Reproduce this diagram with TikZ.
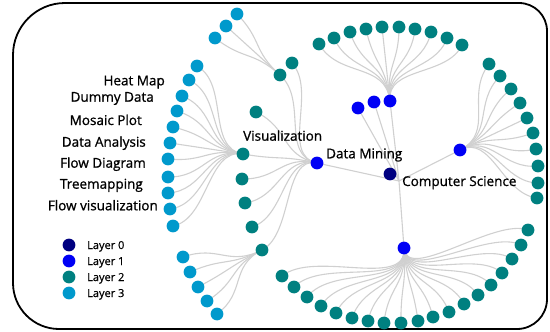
\documentclass[tikz,border=0pt]{standalone}
\usepackage{fontspec}
\setmainfont{Open Sans}
\newfontfamily\semib[FakeBold=1]{Open Sans}
\newfontfamily\medw[FakeBold=0.6]{Open Sans}
\usetikzlibrary{calc}
\definecolor{cz}{RGB}{0,0,128}
\definecolor{co}{RGB}{0,0,245}
\definecolor{ct}{RGB}{0,128,128}
\definecolor{cl}{RGB}{0,153,204}
\definecolor{lg}{RGB}{208,208,208}
\pgfdeclarelayer{bg}
\pgfsetlayers{bg,main}
\tikzset{
  nd/.style={circle, inner sep=0pt, minimum size=12.8pt, draw=none},
  Lz/.style={nd, fill=cz},
  Lo/.style={nd, fill=co},
  Lt/.style={nd, fill=ct},
  Lh/.style={nd, fill=cl},
  lnk/.style={draw=lg, line width=1.1pt},
  lab/.style={inner sep=0pt, font=\semib\fontsize{13.5}{16}\selectfont},
  sideLab/.style={inner sep=0pt, font=\semib\fontsize{13.5}{16}\selectfont, anchor=base east},
  legLab/.style={inner sep=0pt, font=\medw\fontsize{11}{13}\selectfont, anchor=base west},
  frame/.style={draw=black, line width=1.8pt}
}
\newcommand\lk[2]{%
  \draw[lnk] let \p1=($(#1)-(O)$), \p2=($(#2)-(O)$),
    \n1={veclen(\x1,\y1)}, \n2={veclen(\x2,\y2)}, \n3={(\n1+\n2)/2} in
    (#1.center) .. controls ($(O)!\n3!(#1)$) and ($(O)!\n3!(#2)$) .. (#2.center);}
\newcommand\rk[1]{\draw[lnk] (O) .. controls ($(O)!0.5!(#1)$) .. (#1.center);}
\begin{document}
\begin{tikzpicture}[x=1pt,y=-1pt]
\useasboundingbox (0,0) rectangle (550,332);
% frame
\draw[frame] (13,55) .. controls (13,26.3) and (36.3,3) .. (65,3) -- (519,3)
  .. controls (534.5,3) and (547,15.5) .. (547,31) -- (547,299)
  .. controls (547,315.6) and (533.6,329) .. (517,329) -- (59,329)
  .. controls (33.6,329) and (13,308.4) .. (13,283) -- cycle;
% root
\coordinate (O) at (399,181);
\node[Lz] (R) at (390,174) {};
% layer 1
\node[Lo] (B1) at (317,163) {};
\node[Lo] (B2) at (358,108) {};
\node[Lo] (B3) at (374,102) {};
\node[Lo] (B4) at (390,101) {};
\node[Lo] (B5) at (460,150) {};
\node[Lo] (B6) at (404,248) {};
% layer 2 under Data Mining
\foreach \x/\y [count=\i] in {292/63,280/75,256/112,243/154,242/179,245/203,252/227,262/250}
  {\node[Lt] (D\i) at (\x,\y) {};}
% layer 2 top
\foreach \x/\y [count=\i] in {319/44,334/38,350/32,366/29,382/27,399/27,415/29,431/32,447/38,462/45}
  {\node[Lt] (T\i) at (\x,\y) {};}
% layer 2 right
\foreach \x/\y [count=\i] in {489/64,500/76,511/89,520/103,527/118,533/133,536/149,538/166,538/183,537/198}
  {\node[Lt] (S\i) at (\x,\y) {};}
% layer 2 bottom
\foreach \x/\y [count=\i] in {282/276,294/287,307/297,321/306,336/313,352/318,368/321,384/323,401/323,418/321,433/317,449/312,464/304,478/295,491/285,502/273,512/259,521/245,528/230}
  {\node[Lt] (U\i) at (\x,\y) {};}
% layer 3
\foreach \x/\y [count=\i] in {237/14,226/26,215/38}
  {\node[Lh] (P\i) at (\x,\y) {};}
\foreach \x/\y [count=\i] in {197/66,189/80,182/96,177/111,173/127,170/143,168/159,168/177,168/193,170/209,173/226}
  {\node[Lh] (Q\i) at (\x,\y) {};}
\foreach \x/\y [count=\i] in {183/257,190/272,198/287,207/301,217/314}
  {\node[Lh] (W\i) at (\x,\y) {};}
% links
\begin{pgfonlayer}{bg}
  \foreach \n in {B1,B2,B3,B4,B5,B6} {\rk{\n}}
  \foreach \i in {1,...,8} {\lk{B1}{D\i}}
  \foreach \i in {1,...,10} {\lk{B4}{T\i}}
  \foreach \i in {1,...,10} {\lk{B5}{S\i}}
  \foreach \i in {1,...,19} {\lk{B6}{U\i}}
  \foreach \i in {1,...,3} {\lk{D2}{P\i}}
  \foreach \i in {1,...,11} {\lk{D4}{Q\i}}
  \foreach \i in {1,...,5} {\lk{D8}{W\i}}
\end{pgfonlayer}
% labels
\node[lab, anchor=base west] (tv) at (243,140.7) {Visualization};
\node[lab, anchor=base west] (tdm) at (326,158.3) {Data Mining};
\node[lab, anchor=base west] (tcs) at (402,186) {Computer Science};
\node[sideLab] (s1) at (165,85.3) {Heat Map};
\node[sideLab] (s2) at (154,101.7) {Dummy Data};
\node[sideLab] (s3) at (142,125) {Mosaic Plot};
\node[sideLab] (s4) at (146,146.7) {Data Analysis};
\node[sideLab] (s5) at (146,167.7) {Flow Diagram};
\node[sideLab] (s6) at (143,188.7) {Treemapping};
\node[sideLab] (s7) at (158,210.3) {Flow visualization};
% legend
\node[Lz] (g0) at (69,245) {};
\node[Lo] (g1) at (69,261) {};
\node[Lt] (g2) at (69,277) {};
\node[Lh] (g3) at (69,293) {};
\node[legLab] (gl0) at (87,249) {Layer 0};
\node[legLab] (gl1) at (87,265) {Layer 1};
\node[legLab] (gl2) at (87,281) {Layer 2};
\node[legLab] (gl3) at (87,297) {Layer 3};
\end{tikzpicture}
\end{document}
